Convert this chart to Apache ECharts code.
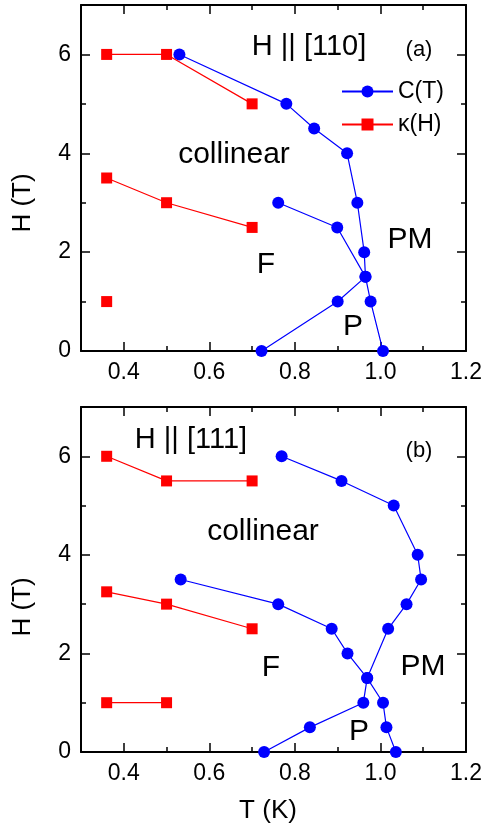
<!DOCTYPE html>
<html>
<head>
<meta charset="utf-8">
<script src="https://cdn.jsdelivr.net/npm/echarts@6/dist/echarts.min.js"></script>
<style>
html, body { margin: 0; padding: 0; background: #fff; }
#chart { width: 485px; height: 828px; }
</style>
</head>
<body>
<div id="chart"></div>
<script>
// (a) H || [110]
const aKappaHigh = [[0.36, 6], [0.5, 6], [0.7, 5]]
const aKappaMid = [[0.36, 3.5], [0.5, 3], [0.7, 2.5]]
const aKappaLow = [[0.36, 1]]
const aCOuter = [[0.53, 6], [0.78, 5], [0.845, 4.5], [0.922, 4], [0.946, 3], [0.962, 2], [0.965, 1.5], [0.977, 1], [1.006, 0]]
const aCInner = [[0.761, 3], [0.899, 2.5], [0.965, 1.5], [0.9, 1], [0.722, 0]]

// (b) H || [111]
const bKappaHigh = [[0.36, 6], [0.5, 5.5], [0.7, 5.5]]
const bKappaMid = [[0.36, 3.25], [0.5, 3], [0.7, 2.5]]
const bKappaLow = [[0.36, 1], [0.5, 1]]
const bCOuter = [[0.769, 6], [0.909, 5.5], [1.031, 5], [1.087, 4], [1.095, 3.5], [1.061, 3], [1.018, 2.5], [0.969, 1.5], [0.96, 1], [0.835, 0.5], [0.728, 0]]
const bCInner = [[0.533, 3.5], [0.761, 3], [0.886, 2.5], [0.923, 2], [0.969, 1.5], [1.006, 1], [1.014, 0.5], [1.036, 0]]

// 刻度
const xMajorTicks = [0.4, 0.6, 0.8, 1.0, 1.2]
const yMajorTicks = [0, 2, 4, 6]

const FONT = '"Liberation Sans", Arial, sans-serif'
const BLUE = '#0000ff'
const RED = '#ff0000'

const lineAxis = { show: true, onZero: false, lineStyle: { color: '#000', width: 2 } }
const tickStyle = { color: '#000', width: 1.5 }
const labelStyle = { color: '#000', fontFamily: FONT, fontSize: 23, margin: 10 }

// 每个grid四条x轴：下(线+次刻度)、下(主刻度+标签)、上(线+次刻度)、上(主刻度)
function makeX (grid) {
  const base = { type: 'value', gridIndex: grid, min: 0.3, max: 1.2, splitLine: { show: false } }
  return [
    { ...base, position: 'bottom', interval: 0.1, axisLine: lineAxis, axisTick: { inside: true, length: 5, lineStyle: tickStyle }, axisLabel: { show: false } },
    { ...base, position: 'bottom', axisLine: { show: false, onZero: false }, axisTick: { inside: true, length: 9, customValues: xMajorTicks, lineStyle: tickStyle }, axisLabel: { ...labelStyle, customValues: xMajorTicks, formatter: v => v.toFixed(1) } },
    { ...base, position: 'top', interval: 0.1, axisLine: lineAxis, axisTick: { inside: true, length: 5, lineStyle: tickStyle }, axisLabel: { show: false } },
    { ...base, position: 'top', axisLine: { show: false, onZero: false }, axisTick: { inside: true, length: 9, customValues: xMajorTicks, lineStyle: tickStyle }, axisLabel: { show: false } }
  ]
}

function makeY (grid) {
  const base = { type: 'value', gridIndex: grid, min: 0, max: 7, splitLine: { show: false } }
  return [
    { ...base, position: 'left', interval: 1, axisLine: lineAxis, axisTick: { inside: true, length: 5, lineStyle: tickStyle }, axisLabel: { show: false } },
    { ...base, position: 'left', axisLine: { show: false, onZero: false }, axisTick: { inside: true, length: 9, customValues: yMajorTicks, lineStyle: tickStyle }, axisLabel: { ...labelStyle, customValues: yMajorTicks } },
    { ...base, position: 'right', interval: 1, axisLine: lineAxis, axisTick: { inside: true, length: 5, lineStyle: tickStyle }, axisLabel: { show: false } },
    { ...base, position: 'right', axisLine: { show: false, onZero: false }, axisTick: { inside: true, length: 9, customValues: yMajorTicks, lineStyle: tickStyle }, axisLabel: { show: false } }
  ]
}

function cSeries (data, grid) {
  return {
    name: 'C(T)', type: 'line', xAxisIndex: grid * 4, yAxisIndex: grid * 4, data,
    symbol: 'circle', symbolSize: 12, itemStyle: { color: BLUE }, lineStyle: { color: BLUE, width: 1.2 }, z: 2
  }
}

function kSeries (data, grid) {
  return {
    name: 'κ(H)', type: 'line', xAxisIndex: grid * 4, yAxisIndex: grid * 4, data,
    symbol: 'rect', symbolSize: 11, itemStyle: { color: RED }, lineStyle: { color: RED, width: 1.2 }, z: 3
  }
}

function label (text, x, y, size, rotation) {
  return {
    type: 'text', x, y, rotation: rotation || 0,
    style: { text, font: size + 'px ' + FONT, fill: '#000', textAlign: 'center', textVerticalAlign: 'middle', align: 'center', verticalAlign: 'middle' }
  }
}

const myChart = echarts.init(document.getElementById('chart'))

const options = {
  animation: false,
  backgroundColor: '#fff',
  grid: [
    { left: 81, top: 5, width: 386, height: 346 },
    { left: 81, top: 407, width: 386, height: 345 }
  ],
  xAxis: [...makeX(0), ...makeX(1)],
  yAxis: [...makeY(0), ...makeY(1)],
  legend: {
    data: ['C(T)', 'κ(H)'],
    orient: 'vertical',
    left: 341,
    top: 80,
    padding: 0,
    itemWidth: 51,
    itemHeight: 15,
    itemGap: 10,
    textStyle: { color: '#000', fontFamily: FONT, fontSize: 23 }
  },
  series: [
    cSeries(aCOuter, 0),
    cSeries(aCInner, 0),
    kSeries(aKappaHigh, 0),
    kSeries(aKappaMid, 0),
    kSeries(aKappaLow, 0),
    cSeries(bCOuter, 1),
    cSeries(bCInner, 1),
    kSeries(bKappaHigh, 1),
    kSeries(bKappaMid, 1),
    kSeries(bKappaLow, 1)
  ],
  graphic: [
    // (a)
    label('H || [110]', 309, 47, 29),
    label('(a)', 419, 50, 22),
    label('collinear', 234, 155, 30),
    label('PM', 410, 240, 30),
    label('F', 266, 265, 30),
    label('P', 353, 327, 30),
    label('H (T)', 23, 203, 26, Math.PI / 2),
    // (b)
    label('H || [111]', 191, 440, 29),
    label('(b)', 419, 451, 22),
    label('collinear', 263, 532, 30),
    label('F', 271, 668, 30),
    label('PM', 423, 667, 30),
    label('P', 359, 732, 30),
    label('H (T)', 23, 607, 26, Math.PI / 2),
    label('T (K)', 268, 811, 26)
  ]
}
myChart.setOption(options)
</script>
</body>
</html>
